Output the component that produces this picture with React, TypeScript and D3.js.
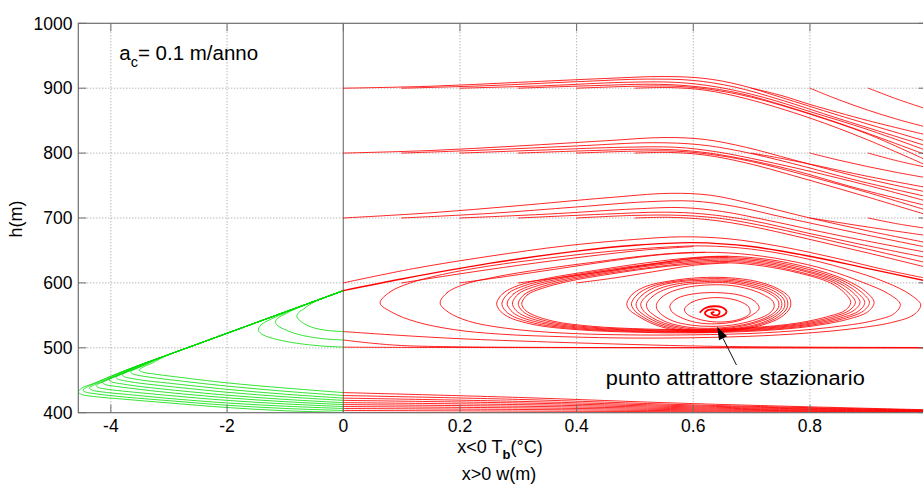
import React from "react";
import * as d3 from "d3";

type P = [number, number];

// ---------- axis definitions ----------
const xTickValues = [-4, -2, 0, 0.2, 0.4, 0.6, 0.8, 1];
const xTickLabels = ["-4", "-2", "0", "0.2", "0.4", "0.6", "0.8", ""];
const yTickValues = [400, 500, 600, 700, 800, 900, 1000];
const yTickLabels = ["400", "500", "600", "700", "800", "900", "1000"];
const xGridValues = [-4, -2, 0.2, 0.4, 0.6, 0.8];
const yGridValues = [500, 600, 700, 800, 900];

// ---------- red trajectories (x = w, y = h) ----------
const A0: P[] = [[0,900],[0.15,903],[0.3,909],[0.45,915],[0.55,918],[0.62,915],[0.68,905],[0.75,886],[0.85,858],[1.0,818]];
const A1: P[] = [[0.1,900],[0.25,904],[0.4,910],[0.52,914],[0.6,912],[0.67,902],[0.75,882],[0.85,853],[1.0,811]];
const A2: P[] = [[0.2,900],[0.35,904],[0.48,909],[0.57,909],[0.64,902],[0.72,886],[0.8,864],[0.9,836],[1.0,804]];
const A3: P[] = [[0.3,900],[0.43,904],[0.54,906],[0.61,902],[0.68,892],[0.76,872],[0.86,843],[1.0,797]];
const A4: P[] = [[0.4,900],[0.5,903],[0.57,903],[0.63,898],[0.7,886],[0.8,860],[0.9,829],[1.0,789]];
const A5: P[] = [[0.5,900],[0.56,901],[0.62,897],[0.69,884],[0.8,854],[0.9,820],[1.0,781]];
const A6: P[] = [[0.7,900],[0.75,889],[0.8,875],[0.9,850],[1.0,828]];
const A7: P[] = [[0.8,900],[0.85,882],[0.9,866],[0.95,852],[1.0,840]];
const A8: P[] = [[0.9,900],[0.95,883],[1.0,868]];

const B0: P[] = [[0,800],[0.15,804],[0.3,811],[0.45,819],[0.55,824],[0.62,821],[0.69,809],[0.77,790],[0.88,764],[1.0,740]];
const B1: P[] = [[0.1,800],[0.25,805],[0.4,811],[0.53,816],[0.61,813],[0.68,803],[0.77,784],[0.88,758],[1.0,733]];
const B2: P[] = [[0.2,800],[0.35,805],[0.48,809],[0.57,809],[0.64,802],[0.72,788],[0.8,772],[0.9,750],[1.0,726]];
const B3: P[] = [[0.3,800],[0.43,804],[0.54,806],[0.61,802],[0.68,792],[0.77,774],[0.88,746],[1.0,719]];
const B4: P[] = [[0.4,800],[0.5,803],[0.57,803],[0.63,798],[0.7,787],[0.8,764],[0.9,739],[1.0,712]];
const B5: P[] = [[0.5,800],[0.56,801],[0.62,797],[0.69,785],[0.8,758],[0.9,732],[1.0,705]];
const B6: P[] = [[0.7,800],[0.75,792],[0.8,783],[0.9,764],[1.0,747]];
const B7: P[] = [[0.8,800],[0.85,789],[0.9,779],[0.95,770],[1.0,762]];
const B8: P[] = [[0.9,800],[0.95,788],[1.0,778]];

const C0: P[] = [[0,700],[0.15,708],[0.3,719],[0.45,731],[0.56,738],[0.63,735],[0.7,722],[0.8,700],[0.9,680],[1.0,662]];
const C1: P[] = [[0.1,700],[0.25,707],[0.4,717],[0.52,725],[0.6,726],[0.67,718],[0.76,700],[0.88,677],[1.0,655]];
const C2: P[] = [[0.2,700],[0.35,706],[0.5,714],[0.58,716],[0.65,710],[0.73,696],[0.85,673],[1.0,647]];
const C3: P[] = [[0.3,700],[0.45,706],[0.55,709],[0.62,706],[0.7,696],[0.8,676],[0.9,657],[1.0,639]];
const C4: P[] = [[0.4,700],[0.5,704],[0.58,704],[0.65,699],[0.73,686],[0.85,662],[1.0,631]];
const C5: P[] = [[0.5,700],[0.56,701],[0.63,697],[0.7,687],[0.8,667],[0.9,646],[1.0,624]];
const C6: P[] = [[0.8,700],[0.85,693],[0.9,686],[1.0,673]];
const C7: P[] = [[0.9,700],[0.95,691],[1.0,684]];

const D0: P[] = [[0,600],[0.12,622],[0.25,641],[0.38,657],[0.5,667],[0.58,671],[0.66,668],[0.75,656],[0.85,637],[0.93,620],[1.0,607]];
const D1: P[] = [[0.1,600],[0.2,614],[0.3,627],[0.42,641],[0.52,651],[0.6,656]];
const D2: P[] = [[0.2,600],[0.28,610],[0.37,622],[0.46,634],[0.55,644],[0.62,647]];
const D3: P[] = [[0.3,600],[0.37,608],[0.45,618],[0.53,629],[0.6,638],[0.66,641]];
const D4: P[] = [[0.4,600],[0.46,607],[0.53,617],[0.6,627],[0.66,631]];
const OUTER: P[] = [[0,588],[0.1,606],[0.25,630],[0.4,649],[0.5,658],[0.6,662],[0.7,656],[0.8,641],[0.9,622],[1.0,603]];

const R1: P[] = [[0,525],[0.1,519],[0.2,514],[0.35,509],[0.5,505],[0.62,502.5],[0.8,501],[1.0,500.5]];
const R2: P[] = [[0,512],[0.05,507],[0.1,503.5],[0.2,501.5],[0.4,500.5],[0.7,500.2],[1.0,500]];
const R3: P[] = [[0,501],[0.1,500.6],[0.3,500.3],[0.6,500],[1.0,499.8]];

const E0: P[] = [[0,400.5],[0.5,400],[1.0,399.5]];
const E1: P[] = [[0,403.5],[0.3,402.5],[0.6,401.5],[1.0,400.5]];
const E2: P[] = [[0,406.5],[0.3,405],[0.6,403],[1.0,401]];
const E3: P[] = [[0,409.5],[0.3,407.5],[0.6,404.5],[1.0,401.5]];
const E4: P[] = [[0,412.5],[0.3,410],[0.6,406],[1.0,402]];
const E5: P[] = [[0,415.5],[0.3,412.5],[0.6,407.5],[1.0,402.5]];
const E6: P[] = [[0,419],[0.3,415],[0.6,409],[1.0,403]];
const E7: P[] = [[0,422.5],[0.3,417.5],[0.6,410.5],[1.0,403.5]];
const E8: P[] = [[0,426.5],[0.3,420.5],[0.6,412],[1.0,404]];
const E9: P[] = [[0,431],[0.3,423.5],[0.6,414],[1.0,404.5]];

// closed orbits around the attractor
const RA: P[] = [[0.063,569],[0.08,586],[0.115,600],[0.17,613],[0.25,626],[0.35,638],[0.45,648],[0.55,655],[0.62,657],[0.7,652],[0.78,640],[0.86,622],[0.93,601],[0.972,582],[0.99,566],[0.978,551],[0.94,539],[0.86,528],[0.75,520],[0.63,516],[0.5,515],[0.38,517],[0.27,521],[0.19,528],[0.125,540],[0.085,554]];
const RB: P[] = [[0.166,569],[0.178,585],[0.205,597],[0.26,609],[0.34,621],[0.43,632],[0.52,642],[0.6,647],[0.68,645],[0.76,635],[0.83,620],[0.89,601],[0.935,583],[0.955,567],[0.945,553],[0.91,542],[0.83,531],[0.72,523],[0.6,520],[0.48,520],[0.37,523],[0.28,530],[0.215,541],[0.18,555]];
const RC1: P[] = [[0.263,569],[0.274,584],[0.3,596],[0.35,607],[0.43,619],[0.52,631],[0.6,639],[0.66,641],[0.73,636],[0.8,623],[0.86,605],[0.895,587],[0.91,570],[0.9,556],[0.865,544],[0.8,533],[0.71,526],[0.6,523],[0.5,524],[0.4,528],[0.325,536],[0.282,548],[0.267,559]];
const RC2: P[] = [[0.272,569],[0.283,584],[0.308,595],[0.357,606],[0.436,618],[0.524,629],[0.6,637],[0.66,639],[0.728,634],[0.797,621],[0.855,604],[0.888,586],[0.902,570],[0.892,557],[0.858,545],[0.795,534],[0.708,527],[0.6,524],[0.503,525],[0.405,529],[0.332,537],[0.29,549],[0.276,559]];
const RC3: P[] = [[0.281,569],[0.292,583],[0.316,594],[0.364,605],[0.442,617],[0.528,628],[0.6,635],[0.66,637],[0.726,632],[0.794,619],[0.85,603],[0.881,585],[0.894,570],[0.884,557],[0.852,546],[0.79,535],[0.705,528],[0.6,525],[0.506,526],[0.41,530],[0.34,538],[0.298,550],[0.285,560]];
const RC4: P[] = [[0.29,569],[0.3,583],[0.324,593],[0.371,604],[0.448,616],[0.532,627],[0.6,633],[0.66,635],[0.724,630],[0.79,618],[0.845,602],[0.874,585],[0.886,570],[0.876,558],[0.846,547],[0.786,536],[0.702,529],[0.6,526],[0.51,527],[0.416,531],[0.347,539],[0.306,551],[0.294,560]];
const RC5: P[] = [[0.3,569],[0.31,582],[0.333,592],[0.378,603],[0.454,615],[0.536,625],[0.6,631],[0.66,633],[0.722,628],[0.786,616],[0.84,601],[0.867,584],[0.878,570],[0.868,558],[0.84,548],[0.782,537],[0.7,530],[0.6,527],[0.514,528],[0.422,532],[0.354,540],[0.314,552],[0.303,561]];
const RC6: P[] = [[0.306,569],[0.316,582],[0.339,591],[0.384,602],[0.46,614],[0.54,624],[0.6,629],[0.66,631],[0.72,626],[0.782,615],[0.835,600],[0.86,584],[0.87,570],[0.861,558],[0.834,549],[0.778,538],[0.698,531],[0.6,528],[0.518,529],[0.428,533],[0.36,541],[0.32,553],[0.309,561]];
const TB1: P[] = [[0.486,568],[0.496,583],[0.52,595],[0.56,603],[0.61,608],[0.66,608],[0.71,602],[0.745,591],[0.765,577],[0.766,562],[0.75,547],[0.718,535],[0.672,527],[0.625,524],[0.578,526],[0.536,535],[0.505,549],[0.49,559]];
const TB2: P[] = [[0.494,568],[0.504,582],[0.527,594],[0.565,602],[0.613,606],[0.66,606],[0.707,600],[0.741,590],[0.76,576],[0.761,562],[0.746,548],[0.715,536],[0.67,528],[0.625,525.5],[0.58,527.5],[0.54,536],[0.511,549],[0.498,559]];
const TB3: P[] = [[0.502,568],[0.512,581],[0.534,593],[0.57,601],[0.616,604],[0.66,604],[0.704,598],[0.737,588],[0.755,575],[0.756,562],[0.742,549],[0.712,537],[0.669,529.5],[0.625,527],[0.583,529],[0.545,537],[0.518,549],[0.505,559]];
const TB4: P[] = [[0.51,568],[0.52,580],[0.541,591],[0.576,599],[0.619,602],[0.66,602],[0.701,596],[0.733,586],[0.75,574],[0.751,562],[0.738,550],[0.709,539],[0.667,531],[0.625,528.5],[0.586,530.5],[0.55,538],[0.525,549],[0.513,559]];
const TB5: P[] = [[0.52,568],[0.53,579],[0.549,589],[0.582,597],[0.622,600],[0.66,600],[0.698,594],[0.728,585],[0.745,573],[0.746,562],[0.734,551],[0.706,540],[0.666,532.5],[0.626,530],[0.59,532],[0.556,539],[0.533,550],[0.522,559]];
const TB6: P[] = [[0.537,567],[0.546,578],[0.564,587],[0.594,594],[0.63,597],[0.665,596],[0.697,590],[0.722,581],[0.737,571],[0.738,561],[0.727,551],[0.702,542],[0.666,535],[0.629,533],[0.596,535],[0.566,541],[0.546,551],[0.538,559]];
const T1: P[] = [[0.56,565],[0.572,576],[0.6,583],[0.64,585],[0.68,581],[0.705,572],[0.713,561],[0.7,550],[0.675,541],[0.64,537],[0.605,539],[0.578,547],[0.563,556]];
const T2: P[] = [[0.585,560],[0.597,570],[0.62,576],[0.65,577],[0.678,572],[0.695,563],[0.697,553],[0.683,545],[0.655,540],[0.625,541],[0.6,547],[0.588,553]];
const CORE: P[] = [[0.612,555],[0.62,561],[0.635,564],[0.65,562],[0.657,556],[0.652,550],[0.64,547],[0.627,548],[0.62,553],[0.625,558],[0.636,559],[0.645,556],[0.643,551],[0.634,551],[0.631,554],[0.635,555]];

// ---------- green trajectories (x = T_b, y = h) ----------
const G0: P[] = [[0,400.5],[-1,403],[-2,408],[-3,415],[-3.8,421],[-4.3,425],[-4.5,428],[-4.56,432],[-4.5,438],[-4.3,445],[-3.8,463.4],[-3,489.6],[-2,522.4],[-1,555.2],[0,588]];
const G1: P[] = [[0,403.5],[-1,406.5],[-2,411.5],[-3,418.5],[-3.8,424.5],[-4.25,429],[-4.44,432],[-4.48,435],[-4.4,440],[-4.2,448],[-3.8,463.4],[-3,489.6],[-2,522.4],[-1,555.2],[0,588]];
const G2: P[] = [[0,406.5],[-1,410],[-2,415],[-3,422],[-3.7,428],[-4.15,432],[-4.33,435],[-4.37,438],[-4.28,443],[-4.08,451],[-3.7,466.6],[-3,489.6],[-2,522.4],[-1,555.2],[0,588]];
const G3: P[] = [[0,409.5],[-1,413.5],[-2,419],[-3,426.5],[-3.7,432.5],[-4.05,436],[-4.22,439],[-4.25,442],[-4.15,447],[-3.95,455],[-3.6,469.9],[-3,489.6],[-2,522.4],[-1,555.2],[0,588]];
const G4: P[] = [[0,412.5],[-1,417],[-2,423],[-3,431],[-3.6,437],[-3.95,441],[-4.1,443.5],[-4.14,446.5],[-4.05,451],[-3.85,458.5],[-3.5,473.2],[-3,489.6],[-2,522.4],[-1,555.2],[0,588]];
const G5: P[] = [[0,415.5],[-1,420.5],[-2,427],[-3,435.5],[-3.55,441],[-3.85,445],[-3.99,447.5],[-4.03,450.5],[-3.95,455],[-3.75,462],[-3.4,476.5],[-3,489.6],[-2,522.4],[-1,555.2],[0,588]];
const G6: P[] = [[0,419],[-1,424.5],[-2,431.5],[-3,440.5],[-3.5,445.5],[-3.75,449],[-3.87,451.5],[-3.91,454.5],[-3.83,459],[-3.63,466],[-3.3,479.8],[-3,489.6],[-2,522.4],[-1,555.2],[0,588]];
const G7: P[] = [[0,422.5],[-1,428.5],[-2,436],[-3,445.5],[-3.45,450],[-3.65,453],[-3.77,455.5],[-3.8,458.5],[-3.72,463],[-3.52,470],[-3.2,483],[-2.5,506],[-2,522.4],[-1,555.2],[0,588]];
const G8: P[] = [[0,426.5],[-1,433],[-2,441],[-3,451],[-3.35,455],[-3.55,458],[-3.63,460],[-3.66,463],[-3.58,467],[-3.4,474],[-3.1,486.3],[-2.5,506],[-2,522.4],[-1,555.2],[0,588]];
const G9: P[] = [[0,431],[-1,438],[-2,446],[-2.9,455.5],[-3.25,459.5],[-3.45,462.5],[-3.51,465.5],[-3.46,469.5],[-3.3,476],[-3.0,489.6],[-2.5,506],[-2,522.4],[-1,555.2],[0,588]];
const GA: P[] = [[0,501],[-0.4,503],[-0.8,507],[-1.15,513],[-1.38,520],[-1.46,527],[-1.42,535],[-1.27,543],[-1.1,550],[-0.5,571.6],[0,588]];
const GB: P[] = [[0,512],[-0.35,514],[-0.7,519],[-0.98,527],[-1.14,535],[-1.17,540],[-1.12,546],[-0.98,553],[-0.85,559],[-0.4,574.9],[0,588]];
const GC: P[] = [[0,525],[-0.3,527],[-0.55,532],[-0.72,540],[-0.8,548],[-0.77,554],[-0.68,560],[-0.55,568],[-0.3,578.2],[0,588]];

const redOpen: P[][] = [A0,A1,A2,A3,A4,A5,A6,A7,A8,B0,B1,B2,B3,B4,B5,B6,B7,B8,C0,C1,C2,C3,C4,C5,C6,C7,D0,D1,D2,D3,D4,R1,R2,R3,E0,E1,E2,E3,E4,E5,E6,E7,E8,E9];
const redRings: P[][] = [RA,RB,RC1,RC2,RC3,RC4,RC5,RC6,TB1,TB2,TB3,TB4,TB5,TB6,T1,T2];
const greenOpen: P[][] = [G0,G1,G2,G3,G4,G5,G6,G7,G8,G9,GA,GB,GC];

// annotation anchors in data units
const arrowTail: P = [0.674, 473.5];
const arrowTip: P = [0.641, 532.5];
const noteAnchor: P = [0.45, 442.7];
const paramAnchor: P = [-3.855, 942.7];

const W = 923, H = 484;
const L = 78.3, R = 926.6, T = 23.3, B = 412.7;
const FONT = "'Liberation Sans', Arial, Helvetica, sans-serif";

export default function App() {
  const x = d3.scaleLinear().domain([-4.56, 0, 1]).range([L, 343.3, R]);
  const y = d3.scaleLinear().domain([400, 1000]).range([B, T]);
  const line = d3.line<P>().x(d => x(d[0])).y(d => y(d[1])).curve(d3.curveCatmullRom.alpha(0.5));
  const ring = d3.line<P>().x(d => x(d[0])).y(d => y(d[1])).curve(d3.curveCatmullRomClosed.alpha(0.5));

  const tx = x(arrowTail[0]), ty = y(arrowTail[1]);
  const hx = x(arrowTip[0]), hy = y(arrowTip[1]);
  const len = Math.hypot(hx - tx, hy - ty);
  const ux = (hx - tx) / len, uy = (hy - ty) / len;
  const headL = 13, headW = 4.5;
  const bx = hx - ux * headL, by = hy - uy * headL;
  const head = `${hx},${hy} ${bx - uy * headW},${by + ux * headW} ${bx + uy * headW},${by - ux * headW}`;

  const axisColor = "#6e6e6e";
  const tickLen = 8;

  return (
    <svg width={W} height={H} style={{ position: "absolute", left: 0, top: 0, background: "#fff" }} fontFamily={FONT}>
      <rect x={0} y={0} width={W} height={H} fill="#fff" />
      <defs>
        <clipPath id="plotClip">
          <rect x={L} y={T} width={R - L} height={B - T} />
        </clipPath>
      </defs>

      {/* grid */}
      {xGridValues.map(v => (
        <line key={"gx" + v} x1={x(v)} x2={x(v)} y1={T} y2={B} stroke="#808080" strokeWidth={0.8} strokeDasharray="1 2" />
      ))}
      {yGridValues.map(v => (
        <line key={"gy" + v} x1={L} x2={R} y1={y(v)} y2={y(v)} stroke="#808080" strokeWidth={0.8} strokeDasharray="1 2" />
      ))}
      <line x1={x(0)} x2={x(0)} y1={T} y2={B} stroke="#7a7a7a" strokeWidth={1.2} />

      <g clipPath="url(#plotClip)" fill="none" strokeLinejoin="round" strokeLinecap="round">
        {greenOpen.map((d, i) => (
          <path key={"g" + i} d={line(d) || ""} stroke="#00dd00" strokeWidth={0.8} />
        ))}
        {redOpen.map((d, i) => (
          <path key={"r" + i} d={line(d) || ""} stroke="#ff0000" strokeWidth={0.85} />
        ))}
        {redRings.map((d, i) => (
          <path key={"c" + i} d={ring(d) || ""} stroke="#ff0000" strokeWidth={0.85} />
        ))}
        <path d={line(OUTER) || ""} stroke="#ff0000" strokeWidth={1.4} />
        <path d={line(CORE) || ""} stroke="#ff0000" strokeWidth={1.8} />
      </g>

      {/* axes box */}
      <rect x={L} y={T} width={R - L} height={B - T} fill="none" stroke={axisColor} strokeWidth={1.2} />
      {xTickValues.map(v => (
        <g key={"tx" + v}>
          <line x1={x(v)} x2={x(v)} y1={B} y2={B - tickLen} stroke={axisColor} strokeWidth={1} />
          <line x1={x(v)} x2={x(v)} y1={T} y2={T + tickLen} stroke={axisColor} strokeWidth={1} />
        </g>
      ))}
      {yTickValues.map(v => (
        <g key={"ty" + v}>
          <line x1={L} x2={L + tickLen} y1={y(v)} y2={y(v)} stroke={axisColor} strokeWidth={1} />
          <line x1={R - tickLen} x2={R} y1={y(v)} y2={y(v)} stroke={axisColor} strokeWidth={1} />
        </g>
      ))}

      {/* tick labels */}
      {xTickValues.map((v, i) =>
        xTickLabels[i] ? (
          <text key={"xl" + v} x={x(v)} y={432} textAnchor="middle" fontSize={17.5} fill="#000">{xTickLabels[i]}</text>
        ) : null
      )}
      {yTickValues.map((v, i) => (
        <text key={"yl" + v} x={72.5} y={y(v) + 6.2} textAnchor="end" fontSize={17.5} fill="#000">{yTickLabels[i]}</text>
      ))}

      {/* axis labels */}
      <text x={500} y={453} textAnchor="middle" fontSize={18} fill="#000">
        x&lt;0 T<tspan fontSize={13} dy={6} fontWeight="bold">b</tspan><tspan dy={-6}>(°C)</tspan>
      </text>
      <text x={499} y={480} textAnchor="middle" fontSize={18} fill="#000">x&gt;0 w(m)</text>
      <text transform="translate(22,219) rotate(-90)" textAnchor="middle" fontSize={18} fill="#000">h(m)</text>

      {/* parameter label */}
      <text x={x(paramAnchor[0])} y={y(paramAnchor[1])} fontSize={20.5} fill="#000">
        a<tspan fontSize={14.5} dy={7}>c</tspan><tspan dy={-7}>= 0.1 m/anno</tspan>
      </text>

      {/* attractor annotation */}
      <line x1={tx} y1={ty} x2={bx} y2={by} stroke="#111" strokeWidth={1} />
      <polygon points={head} fill="#000" />
      <text x={x(noteAnchor[0])} y={y(noteAnchor[1])} fontSize={20} fill="#000" textLength={259} lengthAdjust="spacingAndGlyphs">
        punto attrattore stazionario
      </text>
    </svg>
  );
}
